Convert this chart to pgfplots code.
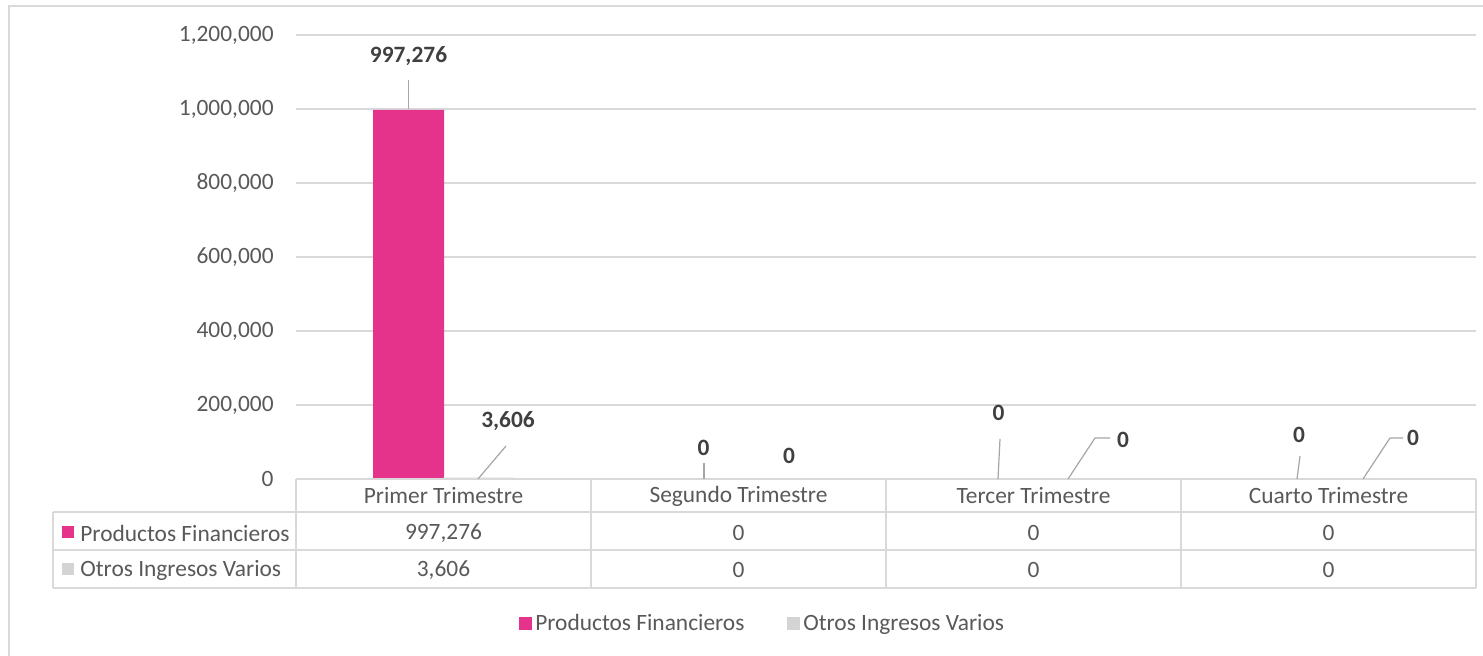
\documentclass[border=0pt]{standalone}
\usepackage{pgfplots}
\pgfplotsset{compat=1.18}
\usepackage{fontspec}
\setmainfont{Carlito}
\definecolor{pfpink}{HTML}{E5338B}
\definecolor{oigray}{HTML}{D4D4D4}
\definecolor{gridc}{HTML}{D9D9D9}
\definecolor{txt}{HTML}{595959}
\definecolor{lbl}{HTML}{404040}
\definecolor{lead}{HTML}{A6A6A6}
\newcommand{\cfont}{\fontsize{11.7}{13}\selectfont}

\begin{document}
\begin{tikzpicture}
\path[use as bounding box, fill=white] (0,0) rectangle (741.5pt,328pt);
\begin{axis}[
  at={(148pt,88.5pt)}, anchor=south west,
  scale only axis, width=590pt, height=222pt,
  xmin=-0.5, xmax=3.5, ymin=0, ymax=1200000,
  ybar, bar width=35.5pt,
  axis line style={draw=none},
  major tick length=0pt,
  xtick=\empty,
  ytick={0,200000,400000,600000,800000,1000000,1200000},
  scaled y ticks=false,
  ymajorgrids, grid style={gridc, line width=0.75pt},
  yticklabel={\pgfmathprintnumber[fixed,1000 sep={,},assume math mode=true]{\tick}},
  yticklabel style={font=\cfont, text=txt, inner sep=0pt, xshift=-11pt},
  clip=false,
  nodes near coords={\pgfmathprintnumber[fixed,1000 sep={,},assume math mode=true]{\pgfplotspointmeta}},
  nodes near coords style={font=\cfont\bfseries, text=lbl},
  legend style={at={(0.396,-0.326)}, anchor=center, draw=none, fill=none,
    font=\cfont, text=txt, legend columns=2,
    /tikz/every even column/.append style={column sep=19pt}},
]
\addplot[fill=pfpink, draw=none, bar shift=-17.5pt, forget plot,
  visualization depends on={\thisrow{dx} \as \dx},
  visualization depends on={\thisrow{dy} \as \dy},
  every node near coord/.append style={anchor=center, xshift=\dx*0.5pt, yshift=\dy*0.5pt}]
  table[x=x,y=y] {
x y dx dy
0 997276 0 54
1 0 0 31
2 0 0 66
3 0 5.5 44
};
\addplot[fill=oigray, draw=none, bar shift=17.5pt, forget plot,
  visualization depends on={\thisrow{dx} \as \dx},
  visualization depends on={\thisrow{dy} \as \dy},
  every node near coord/.append style={anchor=center, xshift=\dx*0.5pt, yshift=\dy*0.5pt}]
  table[x=x,y=y] {
x y dx dy
0 3606 29.5 57
1 0 15.5 23
2 0 54.5 39
3 0 49.5 41
};
\addlegendimage{legend image code/.code={\fill[pfpink] (0pt,-3pt) rectangle (6pt,3pt);}}
\addlegendentry{Productos Financieros}
\addlegendimage{legend image code/.code={\fill[oigray] (0pt,-3pt) rectangle (6pt,3pt);}}
\addlegendentry{Otros Ingresos Varios}
\end{axis}
\begin{scope}[x=0.5pt, y=-0.5pt, yshift=328pt]
  % outer chart border
  \draw[gridc, line width=0.75pt] (9,660) -- (9,6) -- (1490,6);
  % data table grid
  \draw[gridc, line width=0.9pt] (296,479) -- (1476,479);
  \draw[gridc, line width=0.9pt] (53,512) -- (1476,512);
  \draw[gridc, line width=0.9pt] (53,550) -- (1476,550);
  \draw[gridc, line width=0.9pt] (53,588) -- (1476,588);
  \draw[gridc, line width=0.9pt] (53,512) -- (53,588);
  \foreach \xx in {296,591,886,1181,1476} {\draw[gridc, line width=0.9pt] (\xx,479) -- (\xx,588);}
  % header labels
  \foreach \xx/\lab in {443.5/Primer Trimestre,738.5/Segundo Trimestre,1033.5/Tercer Trimestre,1328.5/Cuarto Trimestre}
    {\node[font=\cfont, text=txt] at (\xx,496) {\lab};}
  \foreach \xx/\lab in {443.5/{997,276},738.5/0,1033.5/0,1328.5/0}
    {\node[font=\cfont, text=txt] at (\xx,533) {\lab};}
  \foreach \xx/\lab in {443.5/{3,606},738.5/0,1033.5/0,1328.5/0}
    {\node[font=\cfont, text=txt] at (\xx,570) {\lab};}
  % row labels
  \fill[pfpink] (62,526) rectangle (74,538);
  \node[font=\cfont, text=txt, anchor=west, inner sep=0pt] at (80,533) {Productos Financieros};
  \fill[oigray] (62,563) rectangle (74,575);
  \node[font=\cfont, text=txt, anchor=west, inner sep=0pt] at (80,570) {Otros Ingresos Varios};
  % leader lines
  \draw[lead, line width=0.6pt] (408.5,80) -- (408.5,109);
  \draw[lead, line width=0.6pt] (478,479) -- (506,446);
  \draw[lead, line width=0.6pt] (704,463) -- (704,479);
  \draw[lead, line width=0.6pt] (1000,439) -- (998,479);
  \draw[lead, line width=0.6pt] (1068,479) -- (1095,438) -- (1110,438);
  \draw[lead, line width=0.6pt] (1300,456) -- (1297,479);
  \draw[lead, line width=0.6pt] (1363,479) -- (1390,438) -- (1403,438);
\end{scope}
\end{tikzpicture}
\end{document}
